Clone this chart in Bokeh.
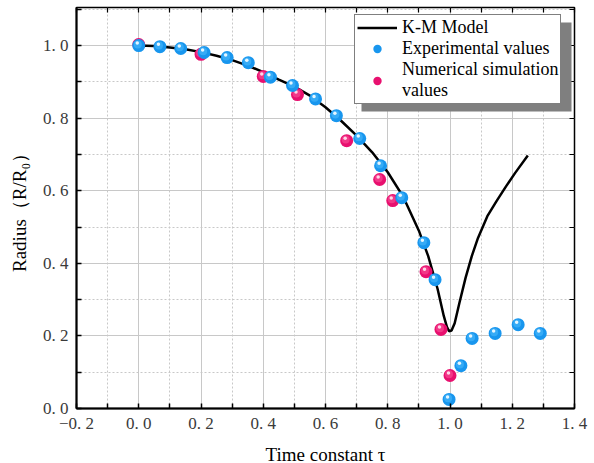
from bokeh.plotting import figure
from bokeh.models import (FixedTicker, LinearAxis, Legend, LegendItem,
                          BoxAnnotation, Range1d)
from bokeh.embed import file_html
from bokeh.resources import INLINE

# ---- data ----
km_t = [0.0, 0.05, 0.1, 0.15, 0.2, 0.25, 0.3, 0.35, 0.4, 0.45, 0.5, 0.55,
        0.6, 0.65, 0.7, 0.75, 0.8, 0.85, 0.9, 0.93, 0.96, 0.98, 0.99, 0.997,
        1.005, 1.015, 1.03, 1.05, 1.07, 1.09, 1.12, 1.15, 1.18, 1.21, 1.25]
km_r = [1.0, 0.999, 0.995, 0.99, 0.982, 0.972, 0.96, 0.945, 0.927, 0.906,
        0.887, 0.862, 0.83, 0.793, 0.752, 0.706, 0.651, 0.583, 0.49, 0.42,
        0.33, 0.255, 0.225, 0.213, 0.215, 0.235, 0.29, 0.36, 0.42, 0.47,
        0.53, 0.572, 0.612, 0.65, 0.697]

exp_t = [0.0, 0.068, 0.135, 0.21, 0.284, 0.352, 0.423, 0.494, 0.568, 0.635,
         0.71, 0.777, 0.845, 0.916, 0.952, 0.997, 1.035, 1.071, 1.145, 1.219,
         1.29]
exp_r = [1.0, 0.997, 0.992, 0.981, 0.967, 0.953, 0.913, 0.89, 0.853, 0.807,
         0.744, 0.669, 0.581, 0.457, 0.355, 0.025, 0.118, 0.193, 0.207, 0.231,
         0.207]

num_t = [0.0, 0.2, 0.4, 0.51, 0.668, 0.774, 0.816, 0.923, 0.971, 1.0]
num_r = [1.003, 0.976, 0.915, 0.865, 0.738, 0.631, 0.573, 0.377, 0.218, 0.091]

x_ticks = [-0.2, 0.0, 0.2, 0.4, 0.6, 0.8, 1.0, 1.2, 1.4]
x_tick_labels = ["\u22120. 2", "0. 0", "0. 2", "0. 4", "0. 6", "0. 8", "1. 0",
                 "1. 2", "1. 4"]
x_minor = [-0.1, 0.1, 0.3, 0.5, 0.7, 0.9, 1.1, 1.3]
y_ticks = [0.0, 0.2, 0.4, 0.6, 0.8, 1.0]
y_tick_labels = ["0. 0", "0. 2", "0. 4", "0. 6", "0. 8", "1. 0"]
y_minor = [0.1, 0.3, 0.5, 0.7, 0.9, 1.1]

X0, X1, Y0, Y1 = -0.2, 1.4, 0.0, 1.105
FW, FH = 498, 401
BL, BT = 76, 7

FONT = "Liberation Serif"

p = figure(frame_width=FW, frame_height=FH,
           x_range=Range1d(X0, X1), y_range=Range1d(Y0, Y1),
           output_backend="svg", toolbar_location=None,
           min_border_left=BL, min_border_right=20,
           min_border_top=BT, min_border_bottom=55)
p.outline_line_color = "black"
p.outline_line_width = 1.5
p.background_fill_color = "white"

xt = FixedTicker(ticks=x_ticks, minor_ticks=x_minor)
yt = FixedTicker(ticks=y_ticks, minor_ticks=y_minor)

for ax in p.xaxis:
    ax.ticker = xt
    ax.major_label_overrides = dict(zip(x_ticks, x_tick_labels))
for ax in p.yaxis:
    ax.ticker = yt
    ax.major_label_overrides = dict(zip(y_ticks, y_tick_labels))

for ax in list(p.xaxis) + list(p.yaxis):
    ax.axis_line_width = 2
    ax.axis_line_color = "black"
    ax.major_tick_in = 5
    ax.major_tick_out = 0
    ax.minor_tick_in = 5
    ax.minor_tick_out = 0
    ax.major_tick_line_color = "black"
    ax.major_tick_line_width = 1.5
    ax.minor_tick_line_color = "black"
    ax.minor_tick_line_width = 1.5
    ax.major_label_text_font = FONT
    ax.major_label_text_font_size = "17px"
    ax.major_label_text_color = "#3a3a3a"
    ax.axis_label_text_font = FONT
    ax.axis_label_text_font_size = "19px"
    ax.axis_label_text_font_style = "normal"
    ax.axis_label_text_color = "black"

p.xaxis.axis_label = "Time constant \u03c4"
p.yaxis.axis_label = "Radius\uff08R/R\u2080\uff09"
p.xaxis.major_label_standoff = 5
p.yaxis.major_label_standoff = 8
p.xaxis.axis_label_standoff = 8
p.yaxis.axis_label_standoff = 10

# top and right axes: ticks only, no labels
top = LinearAxis(ticker=xt)
right = LinearAxis(ticker=yt)
for ax in (top, right):
    ax.axis_line_color = None
    ax.major_tick_in = 5
    ax.major_tick_out = 0
    ax.minor_tick_in = 5
    ax.minor_tick_out = 0
    ax.major_tick_line_color = "black"
    ax.major_tick_line_width = 1.2
    ax.minor_tick_line_color = "black"
    ax.minor_tick_line_width = 1.2
    ax.major_label_text_color = None
    ax.major_label_text_font_size = "1px"
    ax.major_label_standoff = 0
p.add_layout(top, "above")
p.add_layout(right, "right")

# grids
for g, t in ((p.xgrid, xt), (p.ygrid, yt)):
    g.ticker = t
    g.grid_line_color = "#c8c8c8"
    g.grid_line_width = 1
    g.minor_grid_line_color = "#c8c8c8"
    g.minor_grid_line_width = 1
    g.minor_grid_line_dash = "2 2"

# pixel -> data conversions
dx = (X1 - X0) / FW
dy = (Y1 - Y0) / FH

line_r = p.line(km_t, km_r, line_color="black", line_width=2.5)


def sphere(xs, ys, base, mid, hi):
    r1 = p.scatter(xs, ys, size=13, fill_color=base, line_color=None)
    p.scatter([x - 1.0 * dx for x in xs], [y + 1.2 * dy for y in ys],
              size=8, fill_color=mid, fill_alpha=0.8, line_color=None)
    p.scatter([x - 1.5 * dx for x in xs], [y + 2.5 * dy for y in ys],
              size=3.5, fill_color=hi, line_color=None)
    return r1


num_base = sphere(num_t, num_r, "#e8106f", "#f4428f", "#ffd6e8")
exp_base = sphere(exp_t, exp_r, "#1896ee", "#3fb0f7", "#e6f6ff")

# legend box (screen px within the canvas) and its drop shadow
LG_L, LG_T, LG_R, LG_B = 354, 15, 564, 104
SH = 7


def sx(px):
    return X0 + (px - BL) * dx


def sy(py):
    return Y1 - (py - BT) * dy


shadow = BoxAnnotation(left=sx(LG_L + SH), right=sx(LG_R + SH),
                       top=sy(LG_T + SH), bottom=sy(LG_B + SH),
                       fill_color="#7f7f7f", fill_alpha=1.0, line_color=None)
p.add_layout(shadow)

legend = Legend(items=[
    LegendItem(label="K-M Model", renderers=[line_r]),
    LegendItem(label="Experimental values", renderers=[exp_base]),
    LegendItem(label="Numerical simulation\nvalues", renderers=[num_base]),
], location=(LG_L - BL, (BT + FH) - LG_B), margin=0)
legend.border_line_color = "black"
legend.border_line_width = 1.5
legend.background_fill_color = "white"
legend.background_fill_alpha = 1.0
legend.label_text_font = FONT
legend.label_text_font_size = "18px"
legend.label_text_color = "black"
legend.glyph_width = 40
legend.glyph_height = 21
legend.label_height = 21
legend.label_standoff = 5
legend.spacing = 0
legend.padding = 2
p.add_layout(legend)

open("out.html", "w").write(file_html(p, INLINE))
